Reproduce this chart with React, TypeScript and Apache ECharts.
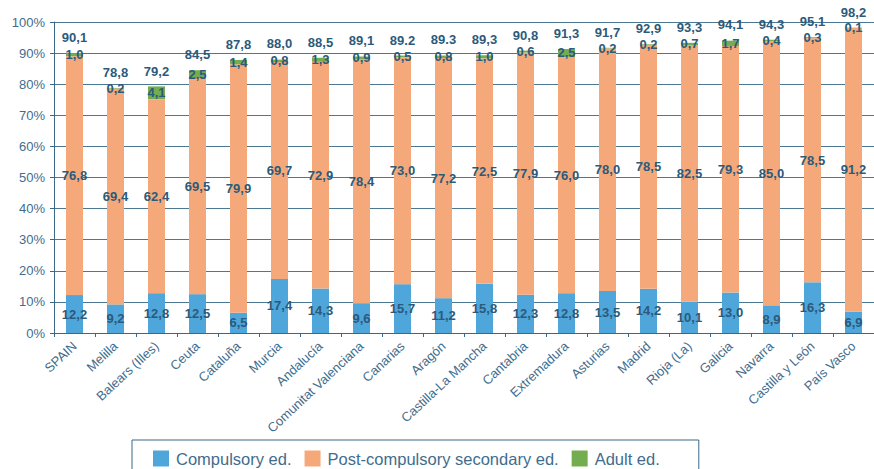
import React, { useEffect, useRef } from "react";
import * as echarts from "echarts";

const categories = [
  "SPAIN", "Melilla", "Balears (Illes)", "Ceuta", "Cataluña", "Murcia", "Andalucía",
  "Comunitat Valenciana", "Canarias", "Aragón", "Castilla-La Mancha", "Cantabria",
  "Extremadura", "Asturias", "Madrid", "Rioja (La)", "Galicia", "Navarra",
  "Castilla y León", "País Vasco",
];
const compulsory = [12.2, 9.2, 12.8, 12.5, 6.5, 17.4, 14.3, 9.6, 15.7, 11.2, 15.8, 12.3, 12.8, 13.5, 14.2, 10.1, 13.0, 8.9, 16.3, 6.9];
const postCompulsory = [76.8, 69.4, 62.4, 69.5, 79.9, 69.7, 72.9, 78.4, 73.0, 77.2, 72.5, 77.9, 76.0, 78.0, 78.5, 82.5, 79.3, 85.0, 78.5, 91.2];
const adult = [1.0, 0.2, 4.1, 2.5, 1.4, 0.8, 1.3, 0.9, 0.5, 0.8, 1.0, 0.6, 2.5, 0.2, 0.2, 0.7, 1.7, 0.4, 0.3, 0.1];
const totals = [90.1, 78.8, 79.2, 84.5, 87.8, 88.0, 88.5, 89.1, 89.2, 89.3, 89.3, 90.8, 91.3, 91.7, 92.9, 93.3, 94.1, 94.3, 95.1, 98.2];
const totalLabels = ["90,1", "78,8", "79,2", "84,5", "87,8", "88,0", "88,5", "89,1", "89.2", "89.3", "89,3", "90,8", "91,3", "91,7", "92,9", "93,3", "94,1", "94,3", "95,1", "98,2"];
const yTicks = [0, 10, 20, 30, 40, 50, 60, 70, 80, 90, 100];

const FONT = "'Liberation Sans', Arial, sans-serif";
const LABEL_COLOR = "#2c5a7a";
const AXIS_TEXT = "#3f6d8e";
const LINE_COLOR = "#3a6888";

const fmt = (v: number) => v.toFixed(1).replace(".", ",");

export default function App() {
  const ref = useRef<HTMLDivElement>(null);
  useEffect(() => {
    if (!ref.current) return;
    const chart = echarts.init(ref.current, undefined, { renderer: "svg" });
    const inside = {
      show: true,
      position: "inside" as const,
      color: LABEL_COLOR,
      fontFamily: FONT,
      fontWeight: "bold" as const,
      fontSize: 13,
      formatter: (p: any) => fmt(p.value),
    };
    chart.setOption({
      animation: false,
      textStyle: { fontFamily: FONT },
      grid: { left: 54, right: -2, top: 22, bottom: 136, containLabel: false },
      legend: {
        data: ["Compulsory ed.", "Post-compulsory secondary ed.", "Adult ed."],
        left: 132,
        top: 440,
        orient: "horizontal",
        itemWidth: 16,
        itemHeight: 16,
        itemGap: 13,
        padding: [10, 39, 10, 21],
        borderColor: LINE_COLOR,
        borderWidth: 1,
        icon: "rect",
        textStyle: { fontSize: 16.5, color: AXIS_TEXT, fontFamily: FONT, padding: [0, 0, 0, 2] },
      },
      xAxis: {
        type: "category",
        data: categories,
        axisLine: { lineStyle: { color: LINE_COLOR, width: 1 } },
        axisTick: { show: true, length: 4, lineStyle: { color: LINE_COLOR } },
        axisLabel: {
          interval: 0,
          rotate: 43,
          color: AXIS_TEXT,
          fontSize: 13,
          fontFamily: FONT,
          margin: 11,
          padding: [28, 0, 0, 0],
        },
      },
      yAxis: {
        type: "value",
        min: yTicks[0],
        max: yTicks[yTicks.length - 1],
        interval: 10,
        axisLine: { show: true, lineStyle: { color: LINE_COLOR, width: 1 } },
        axisTick: { show: true, length: 4, lineStyle: { color: LINE_COLOR } },
        axisLabel: {
          color: AXIS_TEXT,
          fontSize: 13,
          fontFamily: FONT,
          margin: 9,
          formatter: (v: number) => v + "%",
        },
        splitLine: { show: true, lineStyle: { color: "#4c7894", width: 1 } },
      },
      series: [
        {
          name: "Compulsory ed.",
          type: "bar",
          stack: "a",
          barWidth: 17,
          data: compulsory,
          itemStyle: { color: "#4ea6da" },
          label: inside,
        },
        {
          name: "Post-compulsory secondary ed.",
          type: "bar",
          stack: "a",
          barWidth: 17,
          data: postCompulsory,
          itemStyle: { color: "#f5a97b" },
          label: inside,
        },
        {
          name: "Adult ed.",
          type: "bar",
          stack: "a",
          barWidth: 17,
          data: adult,
          itemStyle: { color: "#72ad4f" },
          label: inside,
        },
        {
          name: "Total",
          type: "bar",
          barWidth: 17,
          barGap: "-100%",
          data: totals,
          itemStyle: { color: "rgba(0,0,0,0)" },
          z: 1,
          silent: true,
          label: {
            show: true,
            position: "top",
            distance: 9,
            color: LABEL_COLOR,
            fontFamily: FONT,
            fontWeight: "bold",
            fontSize: 13,
            formatter: (p: any) => totalLabels[p.dataIndex],
          },
        },
      ],
    });
    return () => chart.dispose();
  }, []);
  return <div ref={ref} style={{ width: 874, height: 469, position: "absolute", left: 0, top: 0, background: "#fff" }} />;
}
